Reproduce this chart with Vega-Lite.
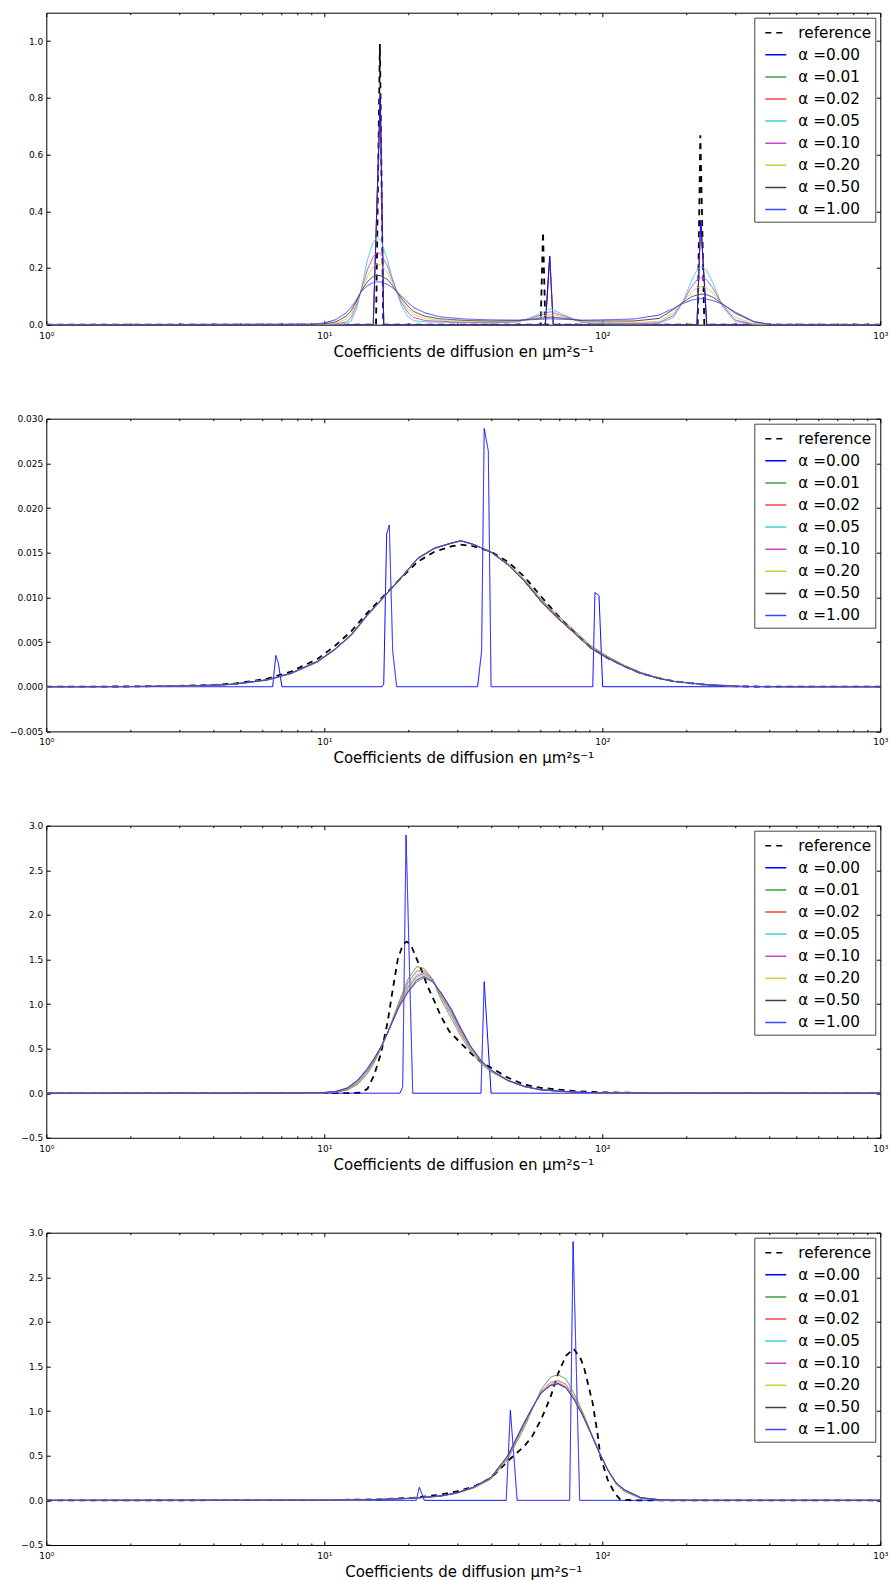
{
"$schema":"https://vega.github.io/schema/vega-lite/v6.json",
"padding":{"left":8.3,"top":11.7,"right":5,"bottom":2},
"background":"white",
"bounds":"flush",
"spacing":94,
"resolve":{"scale":{"color":"independent","strokeDash":"independent"},"legend":{"color":"independent","strokeDash":"independent"}},
"vconcat":[
{"width":834,"height":312,
"data":{"values":[
{"x":1,"r":0,"a0":0,"a1":0,"a2":0,"a5":0,"a10":0,"a20":0,"a50":0,"a100":0},
{"x":9,"a5":0,"a10":0,"a20":0,"a50":0.001,"a100":0.002},
{"x":10,"a5":0,"a10":0,"a20":0.001,"a50":0.003,"a100":0.006},
{"x":11,"a5":0.0005,"a10":0.002,"a20":0.005,"a50":0.01,"a100":0.018},
{"x":12,"a5":0.003,"a10":0.01,"a20":0.02,"a50":0.03,"a100":0.042},
{"x":12.5,"a5":0.013,"a10":0.025,"a20":0.038,"a50":0.05,"a100":0.062},
{"x":13,"a5":0.05,"a10":0.065,"a20":0.075,"a50":0.08,"a100":0.085},
{"x":13.55,"a5":0.119,"a10":0.119,"a20":0.118,"a50":0.117,"a100":0.116},
{"x":14.3,"a5":0.23,"a10":0.195,"a20":0.17,"a50":0.152,"a100":0.138},
{"x":15,"a0":0,"a1":0,"a2":0,"a5":0.29,"a10":0.24,"a20":0.205,"a50":0.17,"a100":0.148},
{"x":15.35,"r":0},
{"x":15.5,"a5":0.309,"a10":0.254,"a20":0.213,"a50":0.174,"a100":0.151},
{"x":15.85,"r":0.99},
{"x":15.9,"a0":0.81,"a1":0.81,"a2":0.81},
{"x":16,"a5":0.297,"a10":0.249,"a20":0.21,"a50":0.172,"a100":0.15},
{"x":16.3,"r":0},
{"x":16.36,"a0":0,"a1":0,"a2":0},
{"x":16.9,"a5":0.225,"a10":0.205,"a20":0.183,"a50":0.159,"a100":0.142},
{"x":17.5,"a5":0.17,"a10":0.162,"a20":0.152,"a50":0.141,"a100":0.132},
{"x":18.26,"a5":0.116,"a10":0.116,"a20":0.116,"a50":0.116,"a100":0.116},
{"x":18.9,"a5":0.07,"a10":0.08,"a20":0.088,"a50":0.095,"a100":0.102},
{"x":19.9,"a5":0.03,"a10":0.045,"a20":0.057,"a50":0.068,"a100":0.08},
{"x":21,"a5":0.014,"a10":0.025,"a20":0.036,"a50":0.046,"a100":0.06},
{"x":23,"a5":0.01,"a10":0.015,"a20":0.022,"a50":0.03,"a100":0.042},
{"x":26,"a5":0.009,"a10":0.012,"a20":0.016,"a50":0.021,"a100":0.028},
{"x":32,"a5":0.007,"a10":0.008,"a20":0.011,"a50":0.015,"a100":0.02},
{"x":40,"a5":0.006,"a10":0.007,"a20":0.01,"a50":0.013,"a100":0.017},
{"x":50,"a5":0.01,"a10":0.011,"a20":0.013,"a50":0.015,"a100":0.016},
{"x":57,"a5":0.03,"a10":0.026,"a20":0.023,"a50":0.02,"a100":0.018},
{"x":60,"r":0},
{"x":61.2,"r":0.327},
{"x":62.4,"r":0,"a0":0,"a1":0,"a2":0},
{"x":64.7,"a0":0.241,"a1":0.241,"a2":0.241},
{"x":65,"a5":0.056,"a10":0.046,"a20":0.036,"a50":0.027,"a100":0.021},
{"x":66.6,"a0":0,"a1":0,"a2":0},
{"x":73,"a5":0.034,"a10":0.03,"a20":0.026,"a50":0.022,"a100":0.019},
{"x":85,"a5":0.007,"a10":0.008,"a20":0.01,"a50":0.014,"a100":0.016},
{"x":100,"a5":0.003,"a10":0.005,"a20":0.008,"a50":0.013,"a100":0.017},
{"x":130,"a5":0.002,"a10":0.004,"a20":0.007,"a50":0.013,"a100":0.02},
{"x":160,"a5":0.004,"a10":0.007,"a20":0.012,"a50":0.022,"a100":0.034},
{"x":180,"a5":0.025,"a10":0.032,"a20":0.041,"a50":0.053,"a100":0.057},
{"x":195,"a5":0.079,"a10":0.08,"a20":0.08,"a50":0.079,"a100":0.075},
{"x":210,"a5":0.158,"a10":0.136,"a20":0.116,"a50":0.099,"a100":0.087},
{"x":219,"a0":0,"a1":0,"a2":0},
{"x":220,"a5":0.196,"a10":0.16,"a20":0.131,"a50":0.105,"a100":0.091},
{"x":220.4,"r":0},
{"x":225.2,"r":0.668},
{"x":226,"a0":0.368,"a1":0.368,"a2":0.368},
{"x":228,"a5":0.205,"a10":0.166,"a20":0.134,"a50":0.108,"a100":0.092},
{"x":232.8,"r":0},
{"x":237,"a5":0.193,"a10":0.159,"a20":0.13,"a50":0.106,"a100":0.09},
{"x":237.5,"a0":0,"a1":0,"a2":0},
{"x":250,"a5":0.147,"a10":0.129,"a20":0.112,"a50":0.097,"a100":0.085},
{"x":270,"a5":0.066,"a10":0.07,"a20":0.072,"a50":0.074,"a100":0.073},
{"x":300,"a5":0.011,"a10":0.017,"a20":0.027,"a50":0.041,"a100":0.045},
{"x":350,"a5":0.001,"a10":0.001,"a20":0.003,"a50":0.01,"a100":0.012},
{"x":400,"a5":0,"a10":0,"a20":0,"a50":0.001,"a100":0.001},
{"x":1000,"r":0,"a0":0,"a1":0,"a2":0,"a5":0,"a10":0,"a20":0,"a50":0,"a100":0}
]},
"transform":[{"fold":["r","a1","a2","a0","a5","a10","a20","a50","a100"],"as":["k","y"]},{"filter":"isValid(datum.y)"}],
"layer":[
{"mark":{"type":"line","clip":true},
"encoding":{
"x":{"field":"x","type":"quantitative","scale":{"type":"log","domain":[1,1000]},"axis":{"orient":"bottom","values":[1,10,100,1000],"tickSize":-4,"labelPadding":10.5,"labelFontSize":9,"labelExpr":"datum.value == 1 ? '10⁰' : datum.value == 10 ? '10¹' : datum.value == 100 ? '10²' : '10³'","title":"Coefficients de diffusion en μm²s⁻¹","titleY":31.6,"titleBaseline":"alphabetic"}},
"y":{"field":"y","type":"quantitative","scale":{"domain":[0,1.1],"nice":false,"zero":false},"axis":{"orient":"left","values":[0,0.2,0.4,0.6,0.8,1],"format":".1f","tickSize":-4,"labelPadding":7.6,"title":null}},
"color":{"field":"k","type":"nominal","scale":{"domain":["r","a0","a1","a2","a5","a10","a20","a50","a100"],"range":["#000000","#0000ff","#40a040","#ff4040","#40cfcf","#cf40cf","#cfcf40","#404040","#4040ff"]},"legend":{"title":null,"orient":"top-right","offset":5,"labelExpr":"datum.label == 'r' ? 'reference' : datum.label == 'a0' ? 'α =0.00' : datum.label == 'a1' ? 'α =0.01' : datum.label == 'a2' ? 'α =0.02' : datum.label == 'a5' ? 'α =0.05' : datum.label == 'a10' ? 'α =0.10' : datum.label == 'a20' ? 'α =0.20' : datum.label == 'a50' ? 'α =0.50' : 'α =1.00'"}},
"strokeDash":{"field":"k","type":"nominal","scale":{"domain":["r","a0","a1","a2","a5","a10","a20","a50","a100"],"range":[[6,5],[1,0],[1,0],[1,0],[1,0],[1,0],[1,0],[1,0],[1,0]]},"legend":{"title":null,"orient":"top-right","offset":5,"labelExpr":"datum.label == 'r' ? 'reference' : datum.label == 'a0' ? 'α =0.00' : datum.label == 'a1' ? 'α =0.01' : datum.label == 'a2' ? 'α =0.02' : datum.label == 'a5' ? 'α =0.05' : datum.label == 'a10' ? 'α =0.10' : datum.label == 'a20' ? 'α =0.20' : datum.label == 'a50' ? 'α =0.50' : 'α =1.00'"}},
"strokeWidth":{"condition":{"test":"datum.k === 'r'","value":1.8},"value":1}
}},
{"mark":{"type":"point","opacity":0},
"encoding":{
"x":{"field":"x","type":"quantitative","scale":{"type":"log","domain":[1,1000]},"axis":{"orient":"bottom","values":[2,3,4,5,6,7,8,9,20,30,40,50,60,70,80,90,200,300,400,500,600,700,800,900],"tickSize":-2,"labels":false,"title":null}},
"y":{"field":"y","type":"quantitative","scale":{"domain":[0,1.1],"nice":false,"zero":false},"axis":{"orient":"right","values":[0,0.2,0.4,0.6,0.8,1],"tickSize":-4,"labels":false,"title":null}}
}},
{"mark":{"type":"point","opacity":0},
"encoding":{
"x":{"field":"x","type":"quantitative","scale":{"type":"log","domain":[1,1000]},"axis":{"orient":"top","values":[1,10,100,1000],"tickSize":-4,"labels":false,"title":null}},
"y":{"field":"y","type":"quantitative","scale":{"domain":[0,1.1],"nice":false,"zero":false},"axis":null}
}},
{"mark":{"type":"point","opacity":0},
"encoding":{
"x":{"field":"x","type":"quantitative","scale":{"type":"log","domain":[1,1000]},"axis":{"orient":"top","values":[2,3,4,5,6,7,8,9,20,30,40,50,60,70,80,90,200,300,400,500,600,700,800,900],"tickSize":-2,"labels":false,"title":null}},
"y":{"field":"y","type":"quantitative","scale":{"domain":[0,1.1],"nice":false,"zero":false},"axis":null}
}}
],
"resolve":{"axis":{"x":"independent","y":"independent"}}
},
{"width":834.01,"height":312.7,
"data":{"values":[
{"x":1,"r":0,"a0":0,"a1":0,"a2":0,"a5":0,"a10":0,"a20":0,"a50":0,"a100":0},
{"x":2,"r":0.00003,"a1":0.00002,"a2":0.00002,"a5":0.00002,"a10":0.00002,"a20":0.00002,"a50":0.00002,"a100":0.00002},
{"x":3,"r":0.0001,"a1":0.00006,"a2":0.00006,"a5":0.00007,"a10":0.00007,"a20":0.00007,"a50":0.00007,"a100":0.00007},
{"x":4,"r":0.0002,"a1":0.00015,"a2":0.00016,"a5":0.00017,"a10":0.00017,"a20":0.00017,"a50":0.00017,"a100":0.00017},
{"x":4.75,"r":0.00035,"a1":0.00027,"a2":0.00028,"a5":0.00029,"a10":0.00029,"a20":0.00029,"a50":0.00029,"a100":0.00029},
{"x":6.25,"r":0.0009,"a1":0.00074,"a2":0.00076,"a5":0.00078,"a10":0.00078,"a20":0.00078,"a50":0.00078,"a100":0.00078},
{"x":6.52,"a0":0},
{"x":6.69,"a0":0.0035},
{"x":6.83,"a0":0.0027},
{"x":7.04,"a0":0},
{"x":7.6,"r":0.0017,"a1":0.00146,"a2":0.00149,"a5":0.00152,"a10":0.00152,"a20":0.00152,"a50":0.00152,"a100":0.00152},
{"x":9.45,"r":0.0031,"a1":0.00275,"a2":0.00279,"a5":0.00283,"a10":0.00283,"a20":0.00283,"a50":0.00283,"a100":0.00283},
{"x":10.85,"r":0.0045,"a1":0.00405,"a2":0.0041,"a5":0.00414,"a10":0.00414,"a20":0.00414,"a50":0.00414,"a100":0.00414},
{"x":12.5,"r":0.0062,"a1":0.00572,"a2":0.00577,"a5":0.00582,"a10":0.00582,"a20":0.00582,"a50":0.00582,"a100":0.00582},
{"x":14.3,"r":0.0083,"a1":0.00795,"a2":0.008,"a5":0.00806,"a10":0.00806,"a20":0.00806,"a50":0.00806,"a100":0.00806},
{"x":16.13,"a0":0},
{"x":16.36,"a0":0.0003},
{"x":16.4,"r":0.0102,"a1":0.01,"a2":0.01005,"a5":0.0101,"a10":0.0101,"a20":0.0101,"a50":0.0101,"a100":0.0101},
{"x":16.76,"a0":0.0171},
{"x":17.13,"a0":0.0181},
{"x":17.62,"a0":0.004},
{"x":18.21,"a0":0},
{"x":18.8,"r":0.0121,"a1":0.01205,"a2":0.0121,"a5":0.01216,"a10":0.01216,"a20":0.01216,"a50":0.01216,"a100":0.01216},
{"x":21.7,"r":0.014,"a1":0.0143,"a2":0.01435,"a5":0.0144,"a10":0.0144,"a20":0.0144,"a50":0.0144,"a100":0.0144},
{"x":24.9,"r":0.0151,"a1":0.01545,"a2":0.01548,"a5":0.01551,"a10":0.01551,"a20":0.01551,"a50":0.01551,"a100":0.01551},
{"x":28.6,"r":0.0157,"a1":0.01605,"a2":0.01606,"a5":0.01607,"a10":0.01607,"a20":0.01607,"a50":0.01607,"a100":0.01607},
{"x":31,"r":0.0159,"a1":0.0163,"a2":0.01632,"a5":0.01634,"a10":0.01634,"a20":0.01634,"a50":0.01634,"a100":0.01634},
{"x":34.6,"r":0.0157,"a1":0.0159,"a2":0.0159,"a5":0.0159,"a10":0.0159,"a20":0.0159,"a50":0.0159,"a100":0.0159},
{"x":35.6,"a0":0},
{"x":36.8,"a0":0.004},
{"x":37.6,"a0":0.0289},
{"x":38.9,"a0":0.0264},
{"x":39.8,"a0":0,"r":0.0151,"a1":0.0151,"a2":0.01508,"a5":0.01505,"a10":0.01505,"a20":0.01505,"a50":0.01505,"a100":0.01505},
{"x":45.7,"r":0.014,"a1":0.0138,"a2":0.01373,"a5":0.01366,"a10":0.01366,"a20":0.01366,"a50":0.01366,"a100":0.01366},
{"x":52.5,"r":0.0123,"a1":0.012,"a2":0.0119,"a5":0.01179,"a10":0.01179,"a20":0.01179,"a50":0.01179,"a100":0.01179},
{"x":60.2,"r":0.0101,"a1":0.0098,"a2":0.00968,"a5":0.00955,"a10":0.00955,"a20":0.00955,"a50":0.00955,"a100":0.00955},
{"x":69.1,"r":0.008,"a1":0.008,"a2":0.00784,"a5":0.00768,"a10":0.00768,"a20":0.00768,"a50":0.00768,"a100":0.00768},
{"x":79.3,"r":0.0061,"a1":0.0063,"a2":0.00615,"a5":0.006,"a10":0.006,"a20":0.006,"a50":0.006,"a100":0.006},
{"x":90.8,"r":0.0044,"a1":0.0046,"a2":0.00446,"a5":0.00432,"a10":0.00432,"a20":0.00432,"a50":0.00432,"a100":0.00432},
{"x":92.4,"a0":0},
{"x":94.1,"a0":0.01055},
{"x":97.3,"a0":0.0102},
{"x":100.3,"a0":0},
{"x":104.5,"r":0.0032,"a1":0.0034,"a2":0.0033,"a5":0.0032,"a10":0.0032,"a20":0.0032,"a50":0.0032,"a100":0.0032},
{"x":120,"r":0.0023,"a1":0.0024,"a2":0.00234,"a5":0.00227,"a10":0.00227,"a20":0.00227,"a50":0.00227,"a100":0.00227},
{"x":137.6,"r":0.0015,"a1":0.0016,"a2":0.00156,"a5":0.00152,"a10":0.00152,"a20":0.00152,"a50":0.00152,"a100":0.00152},
{"x":158,"r":0.001,"a1":0.001,"a2":0.00098,"a5":0.00096,"a10":0.00096,"a20":0.00096,"a50":0.00096,"a100":0.00096},
{"x":181,"r":0.0006,"a1":0.0006,"a2":0.0006,"a5":0.00059,"a10":0.00059,"a20":0.00059,"a50":0.00059,"a100":0.00059},
{"x":239,"r":0.0002,"a1":0.0002,"a2":0.00021,"a5":0.00022,"a10":0.00022,"a20":0.00022,"a50":0.00022,"a100":0.00022},
{"x":315,"r":0.00003,"a1":0.00003,"a2":0.00003,"a5":0.00003,"a10":0.00003,"a20":0.00003,"a50":0.00003,"a100":0.00003},
{"x":500,"r":0,"a1":0,"a2":0,"a5":0,"a10":0,"a20":0,"a50":0,"a100":0},
{"x":1000,"r":0,"a0":0,"a1":0,"a2":0,"a5":0,"a10":0,"a20":0,"a50":0,"a100":0}
]},
"transform":[{"fold":["r","a0","a1","a2","a5","a10","a20","a50","a100"],"as":["k","y"]},{"filter":"isValid(datum.y)"}],
"layer":[
{"mark":{"type":"line","clip":true},
"encoding":{
"x":{"field":"x","type":"quantitative","scale":{"type":"log","domain":[1,1000]},"axis":{"orient":"bottom","values":[1,10,100,1000],"tickSize":-4,"labelPadding":10.5,"labelFontSize":9,"labelExpr":"datum.value == 1 ? '10⁰' : datum.value == 10 ? '10¹' : datum.value == 100 ? '10²' : '10³'","title":"Coefficients de diffusion en μm²s⁻¹","titleY":31.6,"titleBaseline":"alphabetic"}},
"y":{"field":"y","type":"quantitative","scale":{"domain":[-0.005,0.03],"nice":false,"zero":false},"axis":{"orient":"left","values":[-0.005,0,0.005,0.01,0.015,0.02,0.025,0.03],"format":".3f","tickSize":-4,"labelPadding":7.6,"title":null}},
"color":{"field":"k","type":"nominal","scale":{"domain":["r","a0","a1","a2","a5","a10","a20","a50","a100"],"range":["#000000","#0000ff","#40a040","#ff4040","#40cfcf","#cf40cf","#cfcf40","#404040","#4040ff"]},"legend":{"title":null,"orient":"top-right","offset":5,"labelExpr":"datum.label == 'r' ? 'reference' : datum.label == 'a0' ? 'α =0.00' : datum.label == 'a1' ? 'α =0.01' : datum.label == 'a2' ? 'α =0.02' : datum.label == 'a5' ? 'α =0.05' : datum.label == 'a10' ? 'α =0.10' : datum.label == 'a20' ? 'α =0.20' : datum.label == 'a50' ? 'α =0.50' : 'α =1.00'"}},
"strokeDash":{"field":"k","type":"nominal","scale":{"domain":["r","a0","a1","a2","a5","a10","a20","a50","a100"],"range":[[6,5],[1,0],[1,0],[1,0],[1,0],[1,0],[1,0],[1,0],[1,0]]},"legend":{"title":null,"orient":"top-right","offset":5,"labelExpr":"datum.label == 'r' ? 'reference' : datum.label == 'a0' ? 'α =0.00' : datum.label == 'a1' ? 'α =0.01' : datum.label == 'a2' ? 'α =0.02' : datum.label == 'a5' ? 'α =0.05' : datum.label == 'a10' ? 'α =0.10' : datum.label == 'a20' ? 'α =0.20' : datum.label == 'a50' ? 'α =0.50' : 'α =1.00'"}},
"strokeWidth":{"condition":{"test":"datum.k === 'r'","value":1.8},"value":1}
}},
{"mark":{"type":"point","opacity":0},
"encoding":{
"x":{"field":"x","type":"quantitative","scale":{"type":"log","domain":[1,1000]},"axis":{"orient":"bottom","values":[2,3,4,5,6,7,8,9,20,30,40,50,60,70,80,90,200,300,400,500,600,700,800,900],"tickSize":-2,"labels":false,"title":null}},
"y":{"field":"y","type":"quantitative","scale":{"domain":[-0.005,0.03],"nice":false,"zero":false},"axis":{"orient":"right","values":[-0.005,0,0.005,0.01,0.015,0.02,0.025,0.03],"tickSize":-4,"labels":false,"title":null}}
}},
{"mark":{"type":"point","opacity":0},
"encoding":{
"x":{"field":"x","type":"quantitative","scale":{"type":"log","domain":[1,1000]},"axis":{"orient":"top","values":[1,10,100,1000],"tickSize":-4,"labels":false,"title":null}},
"y":{"field":"y","type":"quantitative","scale":{"domain":[-0.005,0.03],"nice":false,"zero":false},"axis":null}
}},
{"mark":{"type":"point","opacity":0},
"encoding":{
"x":{"field":"x","type":"quantitative","scale":{"type":"log","domain":[1,1000]},"axis":{"orient":"top","values":[2,3,4,5,6,7,8,9,20,30,40,50,60,70,80,90,200,300,400,500,600,700,800,900],"tickSize":-2,"labels":false,"title":null}},
"y":{"field":"y","type":"quantitative","scale":{"domain":[-0.005,0.03],"nice":false,"zero":false},"axis":null}
}}
],
"resolve":{"axis":{"x":"independent","y":"independent"}}
},
{"width":834.02,"height":312.1,
"data":{"values":[
{"x":1,"r":0,"a0":0,"a1":0,"a2":0,"a5":0,"a10":0,"a20":0,"a50":0,"a100":0},
{"x":8,"a1":0,"a2":0,"a5":0,"a10":0.0005,"a20":0.0005,"a50":0.001,"a100":0.001},
{"x":10,"a1":0.003,"a2":0.004,"a5":0.005,"a10":0.006,"a20":0.007,"a50":0.008,"a100":0.008},
{"x":11,"a1":0.01,"a2":0.013,"a5":0.015,"a10":0.016,"a20":0.018,"a50":0.019,"a100":0.02},
{"x":12,"r":0},
{"x":12.1,"a1":0.035,"a2":0.042,"a5":0.048,"a10":0.052,"a20":0.055,"a50":0.058,"a100":0.06},
{"x":13.2,"a1":0.1,"a2":0.115,"a5":0.125,"a10":0.132,"a20":0.14,"a50":0.145,"a100":0.15},
{"x":13.5,"r":0.005},
{"x":14.3,"r":0.05,"a1":0.22,"a2":0.24,"a5":0.255,"a10":0.262,"a20":0.27,"a50":0.275,"a100":0.28},
{"x":15.1,"r":0.2,"a1":0.34,"a2":0.36,"a5":0.37,"a10":0.375,"a20":0.38,"a50":0.385,"a100":0.39},
{"x":16,"r":0.45,"a1":0.5,"a2":0.51,"a5":0.515,"a10":0.518,"a20":0.52,"a50":0.52,"a100":0.52},
{"x":16.9,"r":0.8,"a1":0.68,"a2":0.68,"a5":0.68,"a10":0.68,"a20":0.68,"a50":0.68,"a100":0.68},
{"x":17.6,"r":1.15},
{"x":18.4,"r":1.51},
{"x":18.6,"a1":1.03,"a2":1.01,"a5":1.0,"a10":0.99,"a20":0.98,"a50":0.975,"a100":0.97},
{"x":18.72,"a0":0},
{"x":19.14,"a0":0.07},
{"x":19.2,"r":1.67},
{"x":19.68,"a0":2.896},
{"x":19.8,"r":1.7},
{"x":20,"a1":1.28,"a2":1.24,"a5":1.2,"a10":1.18,"a20":1.16,"a50":1.14,"a100":1.13},
{"x":20.5,"r":1.66},
{"x":20.8,"a0":0},
{"x":21.5,"a1":1.42,"a2":1.37,"a5":1.33,"a10":1.31,"a20":1.29,"a50":1.27,"a100":1.25},
{"x":21.7,"r":1.475},
{"x":22.5,"r":1.36},
{"x":22.8,"a1":1.4,"a2":1.375,"a5":1.355,"a10":1.34,"a20":1.325,"a50":1.31,"a100":1.295},
{"x":23.5,"r":1.2},
{"x":24.5,"a1":1.28,"a2":1.28,"a5":1.28,"a10":1.27,"a20":1.26,"a50":1.255,"a100":1.25},
{"x":24.9,"r":1.03},
{"x":26.3,"r":0.86,"a1":1.05,"a2":1.08,"a5":1.1,"a10":1.11,"a20":1.12,"a50":1.125,"a100":1.13},
{"x":28.2,"r":0.69},
{"x":28.6,"a1":0.84,"a2":0.88,"a5":0.9,"a10":0.92,"a20":0.935,"a50":0.94,"a100":0.95},
{"x":31,"r":0.56,"a1":0.64,"a2":0.67,"a5":0.69,"a10":0.7,"a20":0.715,"a50":0.72,"a100":0.73},
{"x":33.6,"a1":0.47,"a2":0.49,"a5":0.505,"a10":0.515,"a20":0.52,"a50":0.525,"a100":0.53},
{"x":35.2,"r":0.39},
{"x":36.6,"a0":0,"a1":0.33,"a2":0.345,"a5":0.355,"a10":0.36,"a20":0.365,"a50":0.368,"a100":0.37},
{"x":37.6,"a0":1.25},
{"x":38.6,"r":0.31},
{"x":39.8,"a0":0,"a1":0.24,"a2":0.25,"a5":0.255,"a10":0.257,"a20":0.258,"a50":0.26,"a100":0.26},
{"x":45.7,"r":0.175,"a1":0.14,"a2":0.142,"a5":0.143,"a10":0.144,"a20":0.145,"a50":0.145,"a100":0.145},
{"x":52.5,"r":0.095,"a1":0.073,"a2":0.074,"a5":0.074,"a10":0.075,"a20":0.075,"a50":0.075,"a100":0.075},
{"x":60.2,"r":0.06,"a1":0.037,"a2":0.037,"a5":0.037,"a10":0.038,"a20":0.038,"a50":0.038,"a100":0.038},
{"x":79,"r":0.025,"a1":0.011,"a2":0.011,"a5":0.012,"a10":0.012,"a20":0.012,"a50":0.012,"a100":0.012},
{"x":100,"r":0.01,"a1":0.004,"a2":0.004,"a5":0.004,"a10":0.004,"a20":0.004,"a50":0.004,"a100":0.004},
{"x":150,"r":0.002,"a1":0.001,"a2":0.001,"a5":0.001,"a10":0.001,"a20":0.001,"a50":0.001,"a100":0.001},
{"x":1000,"r":0,"a0":0,"a1":0,"a2":0,"a5":0,"a10":0,"a20":0,"a50":0,"a100":0}
]},
"transform":[{"fold":["r","a0","a1","a2","a5","a10","a20","a50","a100"],"as":["k","y"]},{"filter":"isValid(datum.y)"}],
"layer":[
{"mark":{"type":"line","clip":true},
"encoding":{
"x":{"field":"x","type":"quantitative","scale":{"type":"log","domain":[1,1000]},"axis":{"orient":"bottom","values":[1,10,100,1000],"tickSize":-4,"labelPadding":10.5,"labelFontSize":9,"labelExpr":"datum.value == 1 ? '10⁰' : datum.value == 10 ? '10¹' : datum.value == 100 ? '10²' : '10³'","title":"Coefficients de diffusion en μm²s⁻¹","titleY":31.6,"titleBaseline":"alphabetic"}},
"y":{"field":"y","type":"quantitative","scale":{"domain":[-0.5,3],"nice":false,"zero":false},"axis":{"orient":"left","values":[-0.5,0,0.5,1,1.5,2,2.5,3],"format":".1f","tickSize":-4,"labelPadding":7.6,"title":null}},
"color":{"field":"k","type":"nominal","scale":{"domain":["r","a0","a1","a2","a5","a10","a20","a50","a100"],"range":["#000000","#0000ff","#40a040","#ff4040","#40cfcf","#cf40cf","#cfcf40","#404040","#4040ff"]},"legend":{"title":null,"orient":"top-right","offset":5,"labelExpr":"datum.label == 'r' ? 'reference' : datum.label == 'a0' ? 'α =0.00' : datum.label == 'a1' ? 'α =0.01' : datum.label == 'a2' ? 'α =0.02' : datum.label == 'a5' ? 'α =0.05' : datum.label == 'a10' ? 'α =0.10' : datum.label == 'a20' ? 'α =0.20' : datum.label == 'a50' ? 'α =0.50' : 'α =1.00'"}},
"strokeDash":{"field":"k","type":"nominal","scale":{"domain":["r","a0","a1","a2","a5","a10","a20","a50","a100"],"range":[[6,5],[1,0],[1,0],[1,0],[1,0],[1,0],[1,0],[1,0],[1,0]]},"legend":{"title":null,"orient":"top-right","offset":5,"labelExpr":"datum.label == 'r' ? 'reference' : datum.label == 'a0' ? 'α =0.00' : datum.label == 'a1' ? 'α =0.01' : datum.label == 'a2' ? 'α =0.02' : datum.label == 'a5' ? 'α =0.05' : datum.label == 'a10' ? 'α =0.10' : datum.label == 'a20' ? 'α =0.20' : datum.label == 'a50' ? 'α =0.50' : 'α =1.00'"}},
"strokeWidth":{"condition":{"test":"datum.k === 'r'","value":1.8},"value":1}
}},
{"mark":{"type":"point","opacity":0},
"encoding":{
"x":{"field":"x","type":"quantitative","scale":{"type":"log","domain":[1,1000]},"axis":{"orient":"bottom","values":[2,3,4,5,6,7,8,9,20,30,40,50,60,70,80,90,200,300,400,500,600,700,800,900],"tickSize":-2,"labels":false,"title":null}},
"y":{"field":"y","type":"quantitative","scale":{"domain":[-0.5,3],"nice":false,"zero":false},"axis":{"orient":"right","values":[-0.5,0,0.5,1,1.5,2,2.5,3],"tickSize":-4,"labels":false,"title":null}}
}},
{"mark":{"type":"point","opacity":0},
"encoding":{
"x":{"field":"x","type":"quantitative","scale":{"type":"log","domain":[1,1000]},"axis":{"orient":"top","values":[1,10,100,1000],"tickSize":-4,"labels":false,"title":null}},
"y":{"field":"y","type":"quantitative","scale":{"domain":[-0.5,3],"nice":false,"zero":false},"axis":null}
}},
{"mark":{"type":"point","opacity":0},
"encoding":{
"x":{"field":"x","type":"quantitative","scale":{"type":"log","domain":[1,1000]},"axis":{"orient":"top","values":[2,3,4,5,6,7,8,9,20,30,40,50,60,70,80,90,200,300,400,500,600,700,800,900],"tickSize":-2,"labels":false,"title":null}},
"y":{"field":"y","type":"quantitative","scale":{"domain":[-0.5,3],"nice":false,"zero":false},"axis":null}
}}
],
"resolve":{"axis":{"x":"independent","y":"independent"}}
},
{"width":834.03,"height":312.3,
"data":{"values":[
{"x":1,"r":0,"a0":0,"a1":0,"a2":0,"a5":0,"a10":0,"a20":0,"a50":0,"a100":0},
{"x":10,"r":0.003,"a1":0.002,"a2":0.002,"a5":0.002,"a10":0.002,"a20":0.002,"a50":0.002,"a100":0.002},
{"x":16,"r":0.012,"a1":0.01,"a2":0.01,"a5":0.01,"a10":0.01,"a20":0.01,"a50":0.01,"a100":0.01},
{"x":21,"r":0.03,"a1":0.023,"a2":0.024,"a5":0.025,"a10":0.025,"a20":0.025,"a50":0.025,"a100":0.025},
{"x":21.4,"a0":0},
{"x":21.97,"a0":0.147},
{"x":22.9,"a0":0},
{"x":26.3,"r":0.065,"a1":0.047,"a2":0.048,"a5":0.05,"a10":0.05,"a20":0.05,"a50":0.05,"a100":0.05},
{"x":30,"r":0.1,"a1":0.08,"a2":0.083,"a5":0.085,"a10":0.085,"a20":0.085,"a50":0.085,"a100":0.085},
{"x":34.6,"r":0.158,"a1":0.14,"a2":0.145,"a5":0.15,"a10":0.15,"a20":0.15,"a50":0.15,"a100":0.15},
{"x":39.8,"r":0.25,"a1":0.24,"a2":0.25,"a5":0.26,"a10":0.26,"a20":0.26,"a50":0.26,"a100":0.26},
{"x":45.1,"a0":0},
{"x":45.7,"r":0.44,"a1":0.46,"a2":0.48,"a5":0.49,"a10":0.495,"a20":0.5,"a50":0.5,"a100":0.5},
{"x":46.7,"a0":1.01},
{"x":49.4,"a0":0},
{"x":52.5,"r":0.61,"a1":0.82,"a2":0.85,"a5":0.865,"a10":0.87,"a20":0.875,"a50":0.878,"a100":0.88},
{"x":56,"r":0.72,"a1":1.02,"a2":1.03,"a5":1.035,"a10":1.037,"a20":1.038,"a50":1.04,"a100":1.04},
{"x":60.2,"r":0.905,"a1":1.24,"a2":1.22,"a5":1.21,"a10":1.208,"a20":1.205,"a50":1.202,"a100":1.2},
{"x":65,"r":1.15,"a1":1.38,"a2":1.32,"a5":1.3,"a10":1.295,"a20":1.292,"a50":1.288,"a100":1.285},
{"x":69.3,"r":1.42,"a1":1.41,"a2":1.343,"a5":1.32,"a10":1.315,"a20":1.31,"a50":1.308,"a100":1.305},
{"x":74,"r":1.62,"a1":1.36,"a2":1.3,"a5":1.275,"a10":1.27,"a20":1.267,"a50":1.263,"a100":1.26},
{"x":76.3,"a0":0},
{"x":78.5,"a0":2.9},
{"x":78.9,"r":1.7},
{"x":79.1,"a1":1.2,"a2":1.16,"a5":1.145,"a10":1.14,"a20":1.137,"a50":1.133,"a100":1.13},
{"x":82.9,"a0":0},
{"x":83.8,"r":1.58},
{"x":85,"a1":0.99,"a2":0.97,"a5":0.96,"a10":0.957,"a20":0.954,"a50":0.952,"a100":0.95},
{"x":86.3,"r":1.466},
{"x":90.8,"a1":0.77,"a2":0.765,"a5":0.76,"a10":0.758,"a20":0.757,"a50":0.756,"a100":0.756},
{"x":92.3,"r":1.093},
{"x":96.4,"r":0.72},
{"x":97,"a1":0.56,"a2":0.555,"a5":0.552,"a10":0.551,"a20":0.55,"a50":0.55,"a100":0.55},
{"x":98.4,"r":0.494},
{"x":104.5,"r":0.233,"a1":0.34,"a2":0.343,"a5":0.344,"a10":0.345,"a20":0.345,"a50":0.345,"a100":0.345},
{"x":110.6,"r":0.084},
{"x":112,"a1":0.18,"a2":0.19,"a5":0.195,"a10":0.197,"a20":0.198,"a50":0.2,"a100":0.2},
{"x":116,"r":0.008},
{"x":120,"a1":0.1,"a2":0.11,"a5":0.115,"a10":0.117,"a20":0.118,"a50":0.12,"a100":0.12},
{"x":130,"r":0},
{"x":137.6,"a1":0.02,"a2":0.025,"a5":0.028,"a10":0.029,"a20":0.03,"a50":0.03,"a100":0.03},
{"x":160,"a1":0.004,"a2":0.006,"a5":0.007,"a10":0.008,"a20":0.008,"a50":0.008,"a100":0.008},
{"x":180,"a1":0.001,"a2":0.002,"a5":0.002,"a10":0.002,"a20":0.002,"a50":0.002,"a100":0.002},
{"x":250,"a1":0,"a2":0,"a5":0,"a10":0,"a20":0,"a50":0,"a100":0},
{"x":1000,"r":0,"a0":0,"a1":0,"a2":0,"a5":0,"a10":0,"a20":0,"a50":0,"a100":0}
]},
"transform":[{"fold":["r","a0","a1","a2","a5","a10","a20","a50","a100"],"as":["k","y"]},{"filter":"isValid(datum.y)"}],
"layer":[
{"mark":{"type":"line","clip":true},
"encoding":{
"x":{"field":"x","type":"quantitative","scale":{"type":"log","domain":[1,1000]},"axis":{"orient":"bottom","values":[1,10,100,1000],"tickSize":-4,"labelPadding":10.5,"labelFontSize":9,"labelExpr":"datum.value == 1 ? '10⁰' : datum.value == 10 ? '10¹' : datum.value == 100 ? '10²' : '10³'","title":"Coefficients de diffusion μm²s⁻¹","titleY":31.6,"titleBaseline":"alphabetic"}},
"y":{"field":"y","type":"quantitative","scale":{"domain":[-0.5,3],"nice":false,"zero":false},"axis":{"orient":"left","values":[-0.5,0,0.5,1,1.5,2,2.5,3],"format":".1f","tickSize":-4,"labelPadding":7.6,"title":null}},
"color":{"field":"k","type":"nominal","scale":{"domain":["r","a0","a1","a2","a5","a10","a20","a50","a100"],"range":["#000000","#0000ff","#40a040","#ff4040","#40cfcf","#cf40cf","#cfcf40","#404040","#4040ff"]},"legend":{"title":null,"orient":"top-right","offset":5,"labelExpr":"datum.label == 'r' ? 'reference' : datum.label == 'a0' ? 'α =0.00' : datum.label == 'a1' ? 'α =0.01' : datum.label == 'a2' ? 'α =0.02' : datum.label == 'a5' ? 'α =0.05' : datum.label == 'a10' ? 'α =0.10' : datum.label == 'a20' ? 'α =0.20' : datum.label == 'a50' ? 'α =0.50' : 'α =1.00'"}},
"strokeDash":{"field":"k","type":"nominal","scale":{"domain":["r","a0","a1","a2","a5","a10","a20","a50","a100"],"range":[[6,5],[1,0],[1,0],[1,0],[1,0],[1,0],[1,0],[1,0],[1,0]]},"legend":{"title":null,"orient":"top-right","offset":5,"labelExpr":"datum.label == 'r' ? 'reference' : datum.label == 'a0' ? 'α =0.00' : datum.label == 'a1' ? 'α =0.01' : datum.label == 'a2' ? 'α =0.02' : datum.label == 'a5' ? 'α =0.05' : datum.label == 'a10' ? 'α =0.10' : datum.label == 'a20' ? 'α =0.20' : datum.label == 'a50' ? 'α =0.50' : 'α =1.00'"}},
"strokeWidth":{"condition":{"test":"datum.k === 'r'","value":1.8},"value":1}
}},
{"mark":{"type":"point","opacity":0},
"encoding":{
"x":{"field":"x","type":"quantitative","scale":{"type":"log","domain":[1,1000]},"axis":{"orient":"bottom","values":[2,3,4,5,6,7,8,9,20,30,40,50,60,70,80,90,200,300,400,500,600,700,800,900],"tickSize":-2,"labels":false,"title":null}},
"y":{"field":"y","type":"quantitative","scale":{"domain":[-0.5,3],"nice":false,"zero":false},"axis":{"orient":"right","values":[-0.5,0,0.5,1,1.5,2,2.5,3],"tickSize":-4,"labels":false,"title":null}}
}},
{"mark":{"type":"point","opacity":0},
"encoding":{
"x":{"field":"x","type":"quantitative","scale":{"type":"log","domain":[1,1000]},"axis":{"orient":"top","values":[1,10,100,1000],"tickSize":-4,"labels":false,"title":null}},
"y":{"field":"y","type":"quantitative","scale":{"domain":[-0.5,3],"nice":false,"zero":false},"axis":null}
}},
{"mark":{"type":"point","opacity":0},
"encoding":{
"x":{"field":"x","type":"quantitative","scale":{"type":"log","domain":[1,1000]},"axis":{"orient":"top","values":[2,3,4,5,6,7,8,9,20,30,40,50,60,70,80,90,200,300,400,500,600,700,800,900],"tickSize":-2,"labels":false,"title":null}},
"y":{"field":"y","type":"quantitative","scale":{"domain":[-0.5,3],"nice":false,"zero":false},"axis":null}
}}
],
"resolve":{"axis":{"x":"independent","y":"independent"}}
}
],
"config":{
"font":"DejaVu Sans",
"view":{"stroke":"#000000","strokeWidth":1},
"axis":{"domain":false,"grid":false,"labelFont":"DejaVu Sans","labelFontSize":9,"labelColor":"#000000","tickColor":"#000000","tickWidth":1,"titleFont":"DejaVu Sans","titleFontSize":15,"titleFontWeight":"normal","titleColor":"#000000","labelFlush":false,"labelOverlap":false,"labelBound":false},
"legend":{"symbolType":"stroke","symbolSize":441,"symbolStrokeWidth":1.5,"labelFont":"DejaVu Sans","labelFontSize":15.3,"labelColor":"#000000","labelOffset":11,"rowPadding":2.1,"padding":3.5,"symbolOffset":6.5,"strokeColor":"#444444","fillColor":"#ffffff","labelLimit":0}
}
}
